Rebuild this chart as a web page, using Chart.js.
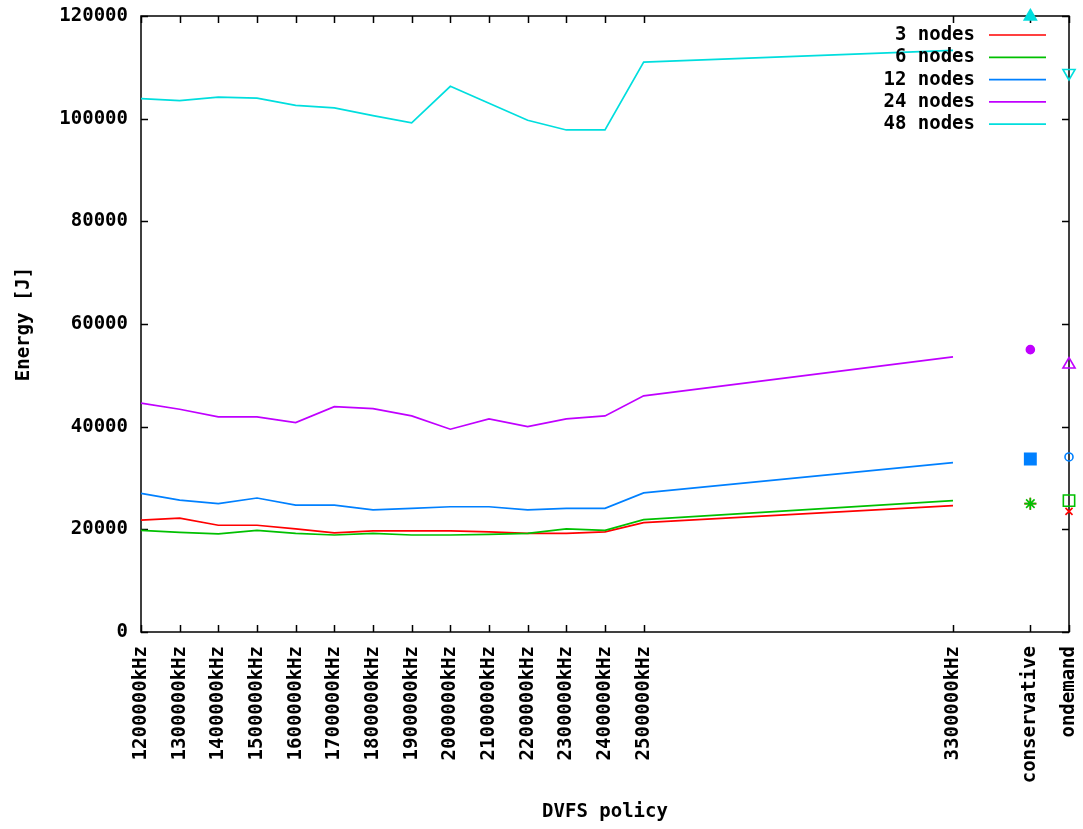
<!DOCTYPE html>
<html>
<head>
<meta charset="utf-8">
<script src="https://cdn.jsdelivr.net/npm/chart.js@4.4.1/dist/chart.umd.min.js"></script>
<style>
  html, body { margin: 0; background: #fff; }
  #wrap { width: 1083px; height: 829px; }
</style>
</head>
<body>
<div id="wrap"><canvas id="energy"></canvas></div>
<script>
// ── Data ──
const freqKHz = [1200000, 1300000, 1400000, 1500000, 1600000, 1700000, 1800000,
                 1900000, 2000000, 2100000, 2200000, 2300000, 2400000, 2500000, 3300000];
const policies = ['conservative', 'ondemand'];
const policySlots = [3500000, 3600000]; // where the governor columns sit on the axis

const seriesNames = ['3 nodes', '6 nodes', '12 nodes', '24 nodes', '48 nodes'];
const seriesColors = ['#ff0000', '#00c000', '#0080ff', '#c000ff', '#00dede'];

const nodes3  = [21800, 22200, 20800, 20800, 20100, 19300, 19700, 19700, 19700, 19500, 19200, 19200, 19500, 21300, 24600];
const nodes6  = [19800, 19400, 19100, 19800, 19200, 18900, 19200, 18900, 18900, 19000, 19200, 20100, 19800, 21900, 25600];
const nodes12 = [27000, 25700, 25000, 26100, 24700, 24700, 23800, 24100, 24400, 24400, 23800, 24100, 24100, 27100, 33000];
const nodes24 = [44600, 43400, 41900, 41900, 40800, 43900, 43500, 42100, 39500, 41500, 40000, 41500, 42100, 46000, 53600];
const nodes48 = [103900, 103500, 104200, 104000, 102600, 102100, 100600, 99200, 106300, 103000, 99700, 97800, 97800, 111000, 113300];
const seriesValues = [nodes3, nodes6, nodes12, nodes24, nodes48];

// governor results, one value per series
const conservative = [25000, 25000, 33700, 55000, 119900];
const ondemand     = [23500, 25600, 34100, 52100, 108900];

const yTicks = [0, 20000, 40000, 60000, 80000, 100000, 120000];
const xTickValues = freqKHz.concat(policySlots);
const xTickLabels = freqKHz.map(f => f + 'kHz').concat(policies);

// gnuplot point types: + * filled square/circle/triangle for conservative,
// x and open square/circle/triangle/down-triangle for ondemand
const consStyle = [
  { style: 'cross',    radius: 6, fill: false },
  { style: 'star',     radius: 6, fill: false },
  { style: 'rect',     radius: 8, fill: true },
  { style: 'circle',   radius: 4, fill: true },
  { style: 'triangle', radius: 7, fill: true },
];
const ondStyle = [
  { style: 'crossRot', radius: 5, fill: false, rot: 0 },
  { style: 'rect',     radius: 8, fill: false, rot: 0 },
  { style: 'circle',   radius: 4, fill: false, rot: 0 },
  { style: 'triangle', radius: 7, fill: false, rot: 0 },
  { style: 'triangle', radius: 7, fill: false, rot: 180 },
];

const FONT = { family: "'DejaVu Sans Mono', monospace", size: 19, weight: 'bold' };

// ── Datasets ──
const datasets = [];
seriesNames.forEach((name, i) => {
  datasets.push({
    label: name,
    data: freqKHz.map((f, j) => ({ x: f, y: seriesValues[i][j] })),
    showLine: true,
    borderColor: seriesColors[i],
    backgroundColor: seriesColors[i],
    borderWidth: 1.7,
    pointRadius: 0,
    tension: 0,
    order: 20 - i,
    clip: false,
  });
});
seriesNames.forEach((name, i) => {
  const c = seriesColors[i];
  datasets.push({
    label: name + ' governors',
    data: [{ x: policySlots[0], y: conservative[i] }, { x: policySlots[1], y: ondemand[i] }],
    showLine: false,
    pointStyle: [consStyle[i].style, ondStyle[i].style],
    pointRadius: [consStyle[i].radius, ondStyle[i].radius],
    pointRotation: [0, ondStyle[i].rot],
    pointBackgroundColor: [consStyle[i].fill ? c : 'rgba(0,0,0,0)', ondStyle[i].fill ? c : 'rgba(0,0,0,0)'],
    pointBorderColor: c,
    pointBorderWidth: 1.6,
    order: 10 - i,
    clip: false,
  });
});

// ── Frame with inward ticks on all four sides (gnuplot style) ──
const gnuplotFrame = {
  id: 'gnuplotFrame',
  beforeDatasetsDraw(chart) {
    const { ctx, chartArea: a, scales: { x, y } } = chart;
    const tl = 7;
    ctx.save();
    ctx.strokeStyle = '#000';
    ctx.lineWidth = 1.5;
    ctx.strokeRect(a.left, a.top, a.right - a.left, a.bottom - a.top);
    ctx.beginPath();
    xTickValues.forEach(v => {
      const px = Math.round(x.getPixelForValue(v)) + 0.5;
      ctx.moveTo(px, a.bottom); ctx.lineTo(px, a.bottom - tl);
      ctx.moveTo(px, a.top);    ctx.lineTo(px, a.top + tl);
    });
    yTicks.forEach(v => {
      const py = Math.round(y.getPixelForValue(v)) + 0.5;
      ctx.moveTo(a.left, py);  ctx.lineTo(a.left + tl, py);
      ctx.moveTo(a.right, py); ctx.lineTo(a.right - tl, py);
    });
    ctx.stroke();
    ctx.restore();
  }
};

// ── Key, top right: label then line sample ──
const keyBox = {
  id: 'keyBox',
  afterDatasetsDraw(chart) {
    const { ctx } = chart;
    const textRight = 975, lineL = 989, lineR = 1046, top = 35, step = 22.3;
    ctx.save();
    ctx.font = `${FONT.weight} ${FONT.size}px ${FONT.family}`;
    ctx.textAlign = 'right';
    ctx.textBaseline = 'middle';
    seriesNames.forEach((name, i) => {
      const yy = top + i * step;
      ctx.fillStyle = '#000';
      ctx.fillText(name, textRight, yy);
      ctx.strokeStyle = seriesColors[i];
      ctx.lineWidth = 1.7;
      ctx.beginPath(); ctx.moveTo(lineL, yy); ctx.lineTo(lineR, yy); ctx.stroke();
    });
    ctx.restore();
  }
};

// keep the plot box where the reference has it: no extra label overhang padding
function fixBox(size, dim) {
  return s => {
    s[dim] = size;
    s.paddingTop = s.paddingBottom = s.paddingLeft = s.paddingRight = 0;
  };
}

new Chart(document.getElementById('energy'), {
  type: 'scatter',
  data: { datasets },
  options: {
    responsive: true,
    maintainAspectRatio: false,
    animation: false,
    layout: { padding: { left: 8, top: 16, right: 14, bottom: 0 } },
    plugins: { legend: { display: false }, tooltip: { enabled: false } },
    scales: {
      x: {
        type: 'linear', min: 1200000, max: 3600000,
        afterBuildTicks: s => { s.ticks = xTickValues.map(v => ({ value: v })); },
        afterFit: fixBox(197, 'height'),
        grid: { display: false, drawTicks: false }, border: { display: false },
        ticks: {
          autoSkip: false, minRotation: 90, maxRotation: 90, padding: 14,
          color: '#000', font: FONT,
          callback: (v, i) => xTickLabels[i],
        },
        title: { display: true, text: 'DVFS policy', color: '#000', font: FONT, padding: { bottom: 6 } },
      },
      y: {
        type: 'linear', min: 0, max: 120000,
        afterBuildTicks: s => { s.ticks = yTicks.map(v => ({ value: v })); },
        afterFit: fixBox(133, 'width'),
        grid: { display: false, drawTicks: false }, border: { display: false },
        ticks: { padding: 13, color: '#000', font: FONT, callback: v => String(v) },
        title: { display: true, text: 'Energy [J]', color: '#000', font: FONT, padding: { top: 5 } },
      },
    },
  },
  plugins: [gnuplotFrame, keyBox],
});
</script>
</body>
</html>
